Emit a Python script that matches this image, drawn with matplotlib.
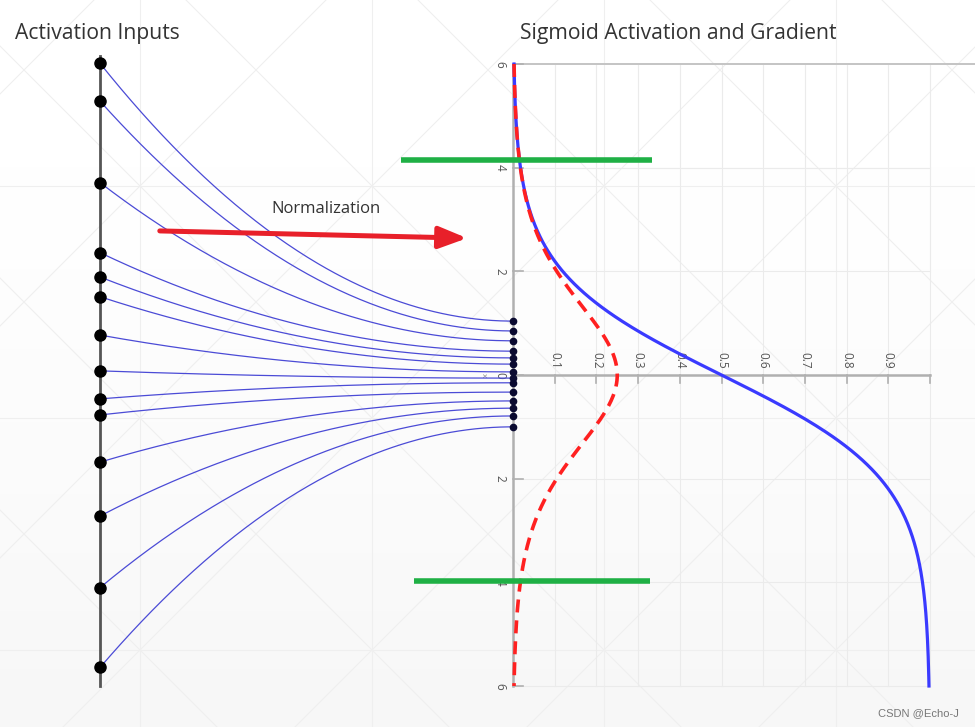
import numpy as np
import matplotlib.pyplot as plt

# activation values on the left axis (same units as the sigmoid input axis)
inputs = [-6.01, -5.28, -3.71, -2.36, -1.89, -1.51, -0.77, -0.08,
          0.46, 0.77, 1.68, 2.72, 4.10, 5.64]
# the same activations after normalization
normalized = [-1.04, -0.85, -0.66, -0.46, -0.33, -0.21, -0.06, 0.06,
              0.15, 0.33, 0.50, 0.64, 0.79, 1.00]

t_range = (-6, 6)
y_ticks = [-6, -4, -2, 0, 2, 4, 6]
y_tick_labels = ["6", "4", "2", "0", "2", "4", "6"]
x_ticks = [0.1, 0.2, 0.3, 0.4, 0.5, 0.6, 0.7, 0.8, 0.9, 1.0]
x_tick_labels = ["0.1", "0.2", "0.3", "0.4", "0.5", "0.6", "0.7", "0.8", "0.9", ""]
saturation = [-4.15, 3.97]          # green "saturation" markers

INPUT_X = -0.99                     # where the raw activations sit
FONT = ["Open Sans", "DejaVu Sans"]

fig = plt.figure(figsize=(9.75, 7.27), dpi=100)

# ---------------------------------------------------------------------------
# faint decorative background (pixel coordinates)
# ---------------------------------------------------------------------------
bg = fig.add_axes([0, 0, 1, 1])
bg.set_xlim(0, 975)
bg.set_ylim(727, 0)
bg.axis("off")
grad = np.linspace(0, 1, 100)[:, None]
bg.imshow(1 - 0.035 * grad ** 1.5, cmap="gray", vmin=0, vmax=1,
          extent=(0, 975, 727, 0), aspect="auto", zorder=0)
step = 232
gx0, gy0 = 140, 186
bg_col = "#efefef"
for k in range(-2, 6):
    bg.axvline(gx0 + k * step, color=bg_col, lw=0.8, zorder=1)
    bg.axhline(gy0 + k * step, color=bg_col, lw=0.8, zorder=1)
for k in range(-6, 10):
    c = gx0 + k * step
    bg.plot([c - 1200, c + 1200], [gy0 - 1200, gy0 + 1200], color=bg_col, lw=0.8, zorder=1)
    bg.plot([c - 1200, c + 1200], [gy0 + 1200, gy0 - 1200], color=bg_col, lw=0.8, zorder=1)

# ---------------------------------------------------------------------------
# main drawing: x in sigmoid units, y in input units
# ---------------------------------------------------------------------------
ax = fig.add_axes([0, 0, 1, 1])
ax.set_facecolor("none")
ax.set_xlim(-1.2302, 1.1079)
ax.set_ylim(6.791, -7.235)
ax.axis("off")

# sigmoid axes: grid, spines, ticks
ax.plot([0, 1.1079], [t_range[0], t_range[0]], color="#c4c4c4", lw=1.4, zorder=2)
for x in x_ticks:
    ax.plot([x, x], [t_range[0], t_range[1]], color="#ebebeb", lw=0.8, zorder=1)
for t in y_ticks[1:]:
    ax.plot([0, 1.0], [t, t], color="#ebebeb", lw=0.8, zorder=1)
ax.plot([0, 0], [t_range[0], t_range[1]], color="#b0b0b0", lw=1.8, zorder=2)
ax.plot([0, 1.0], [0, 0], color="#b0b0b0", lw=1.8, zorder=2)
for x, lab in zip(x_ticks, x_tick_labels):
    ax.plot([x, x], [0, 0.15], color="#b0b0b0", lw=1.2, zorder=2)
    ax.text(x, -0.12, lab, rotation=270, ha="center", va="bottom",
            fontsize=8.5, color="#555555", family=FONT)
for t, lab in zip(y_ticks, y_tick_labels):
    ax.plot([0, 0.024], [t, t], color="#b0b0b0", lw=1.2, zorder=2)
    ax.text(-0.031, t, lab, rotation=270, ha="center", va="center",
            fontsize=8.5, color="#555555", family=FONT)
ax.text(-0.072, 0, "x", rotation=270, ha="center", va="center",
        fontsize=6, color="#888888", family=FONT)

# sigmoid and its gradient
t = np.linspace(t_range[0], t_range[1], 400)
sig = 1 / (1 + np.exp(-t))
ax.plot(sig, t, color="#3a3aff", lw=2.3, zorder=4)
ax.plot(sig * (1 - sig), t, color="#ff2020", lw=2.6, ls=(0, (3.6, 2.2)), zorder=5)

# left input axis
ax.plot([INPUT_X, INPUT_X], [-6.15, 6.0], color="#555555", lw=2, zorder=3)

# connectors from raw to normalized activations
u = np.linspace(0, 1, 200)
for a, b in zip(inputs, normalized):
    xs = INPUT_X + u * (0 - INPUT_X)
    ys = b + (a - b) * (1 - u) ** 2
    ax.plot(xs, ys, color="#4b4bd6", lw=0.9, zorder=3)

ax.plot([INPUT_X] * len(inputs), inputs, "o", color="black",
        ms=8, zorder=6)
ax.plot([0] * len(normalized), normalized, "o", color="#0a0a30",
        ms=4.5, zorder=6)

# saturation lines
ax.plot([-0.269, 0.333], [saturation[0]] * 2, color="#1fb045", lw=4, zorder=7,
        solid_capstyle="butt")
ax.plot([-0.237, 0.329], [saturation[1]] * 2, color="#1fb045", lw=4, zorder=7,
        solid_capstyle="butt")

# normalization arrow
ax.annotate("", xy=(-0.110, -2.64), xytext=(-0.847, -2.78),
            arrowprops=dict(arrowstyle="-|>,head_length=0.85,head_width=0.33",
                            mutation_scale=20, color="#e8202a", lw=3.6,
                            shrinkA=0, shrinkB=0), zorder=8)
ax.text(-0.448, -3.20, "Normalization", ha="center", va="center",
        fontsize=12, color="#333333", family=FONT)

# titles and watermark
ax.text(-1.194, -6.58, "Activation Inputs", ha="left", va="center",
        fontsize=15.2, color="#333333", family=FONT)
ax.text(0.017, -6.58, "Sigmoid Activation and Gradient", ha="left", va="center",
        fontsize=15.2, color="#333333", family=FONT)
ax.text(1.07, 6.53, "CSDN @Echo-J", ha="right", va="center",
        fontsize=8, color="#777777", family=["Liberation Sans", "DejaVu Sans"])

fig.savefig("out.png", dpi=100)
